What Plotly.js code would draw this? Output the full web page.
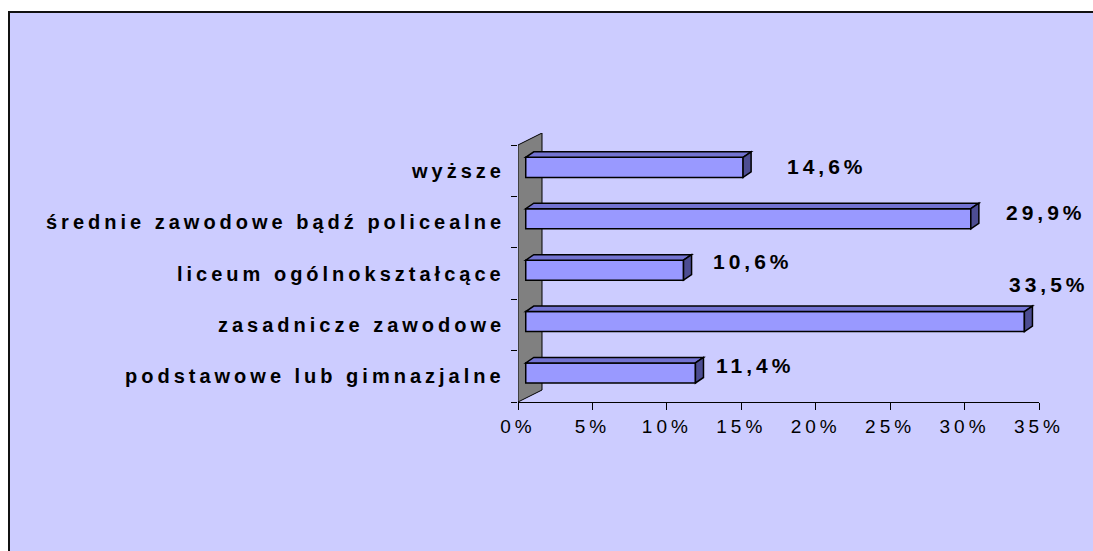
<!DOCTYPE html>
<html>
<head>
<meta charset="utf-8">
<script src="https://cdn.plot.ly/plotly-3.0.1.min.js"></script>
<style>
  html, body { margin: 0; padding: 0; background: #ffffff; overflow: hidden; width: 1093px; height: 551px; }
  #frame { position: absolute; left: 8px; top: 11px; right: 0; bottom: 0;
           background: #CCCCFF; border-top: 2px solid #111111; border-left: 2px solid #111111; }
  #chart { position: absolute; left: 0; top: 0; width: 1093px; height: 551px; overflow: hidden; }
  #chart text, #js-plotly-tester text { letter-spacing: 4px; }
</style>
</head>
<body>
<div id="frame"></div>
<div id="chart"></div>
<script>
// ---- data (top-to-bottom order as shown) ----
const categories = [
  'wyższe',
  'średnie zawodowe bądź policealne',
  'liceum ogólnokształcące',
  'zasadnicze zawodowe',
  'podstawowe lub gimnazjalne'
];
const values = [14.6, 29.9, 10.6, 33.5, 11.4];
const valueLabels = ['14,6%', '29,9%', '10,6%', '33,5%', '11,4%'];
const xTickValues = [0, 5, 10, 15, 20, 25, 30, 35];
const xTickLabels = ['0%', '5%', '10%', '15%', '20%', '25%', '30%', '35%'];

// ---- styling / geometry (not data) ----
const labelShiftX = [50, 41, 35, -10, 26];
const labelShiftY = [4, 10, 12, 40, 11];
const BAR_BASE = 0.52;
const BAR_W = 0.39, BAR_OFF = -0.13;
const DEPTH_X = 0.54, DEPTH_Y = 0.107;
const WALL_X = 1.612, WALL_Y = 0.2335;

const n = categories.length;
const ypos = categories.map((c, i) => n - 1 - i);

const shapes = [];
// side wall
shapes.push({type: 'path', xref: 'x', yref: 'y', layer: 'below',
  path: `M 0,-0.5 L 0,${n - 0.5} L ${WALL_X},${n - 0.5 + WALL_Y} L ${WALL_X},${-0.5 + WALL_Y} Z`,
  fillcolor: '#808080', line: {color: '#000000', width: 1}});

// bar top and side faces derived from data
values.forEach((v, i) => {
  const y0 = ypos[i] + BAR_OFF, y1 = y0 + BAR_W;
  const x0 = BAR_BASE, x1 = BAR_BASE + v;
  shapes.push({type: 'path', xref: 'x', yref: 'y', layer: 'above',
    path: `M ${x0},${y1} L ${x1},${y1} L ${x1 + DEPTH_X},${y1 + DEPTH_Y} L ${x0 + DEPTH_X},${y1 + DEPTH_Y} Z`,
    fillcolor: '#7373D2', line: {color: '#000000', width: 1.5}});
  shapes.push({type: 'path', xref: 'x', yref: 'y', layer: 'above',
    path: `M ${x1},${y0} L ${x1},${y1} L ${x1 + DEPTH_X},${y1 + DEPTH_Y} L ${x1 + DEPTH_X},${y0 + DEPTH_Y} Z`,
    fillcolor: '#4D4D92', line: {color: '#000000', width: 1.5}});
});

const FONT = 'Liberation Sans, Arial, sans-serif';
const annotations = [];
categories.forEach((c, i) => {
  annotations.push({xref: 'paper', yref: 'y', x: 0, y: ypos[i],
    xanchor: 'right', yanchor: 'middle', xshift: -11, showarrow: false,
    text: '<b>' + c + '</b>', font: {family: FONT, size: 20, color: '#000000'}});
});
values.forEach((v, i) => {
  annotations.push({xref: 'x', yref: 'y', x: v, y: ypos[i],
    xanchor: 'left', yanchor: 'middle', xshift: labelShiftX[i], yshift: labelShiftY[i],
    showarrow: false, text: '<b>' + valueLabels[i] + '</b>',
    font: {family: FONT, size: 21, color: '#000000'}});
});

const trace = {
  type: 'bar', orientation: 'h',
  x: values, y: ypos, base: BAR_BASE,
  width: BAR_W, offset: BAR_OFF,
  marker: {color: '#9999FF', line: {color: '#000000', width: 1.5}},
  hoverinfo: 'skip'
};

const layout = {
  width: 1093, height: 551,
  margin: {l: 518, r: 54, t: 133, b: 149},
  paper_bgcolor: 'rgba(0,0,0,0)', plot_bgcolor: 'rgba(0,0,0,0)',
  showlegend: false,
  xaxis: {range: [0, 35], tickmode: 'array', tickvals: xTickValues, ticktext: xTickLabels,
    ticks: 'outside', ticklen: 7, tickcolor: '#000000', tickwidth: 1,
    showline: true, linecolor: '#000000', linewidth: 1,
    showgrid: false, zeroline: false,
    tickfont: {family: FONT, size: 19, color: '#000000'}},
  yaxis: {range: [-0.5, n - 0.5 + WALL_Y], tickvals: [-0.5, 0.5, 1.5, 2.5, 3.5, 4.5],
    ticks: 'outside', ticklen: 6, tickcolor: '#000000', tickwidth: 1,
    showticklabels: false, showline: false, showgrid: false, zeroline: false},
  shapes: shapes,
  annotations: annotations
};

Plotly.newPlot('chart', [trace], layout, {displayModeBar: false, staticPlot: true});
</script>
</body>
</html>
